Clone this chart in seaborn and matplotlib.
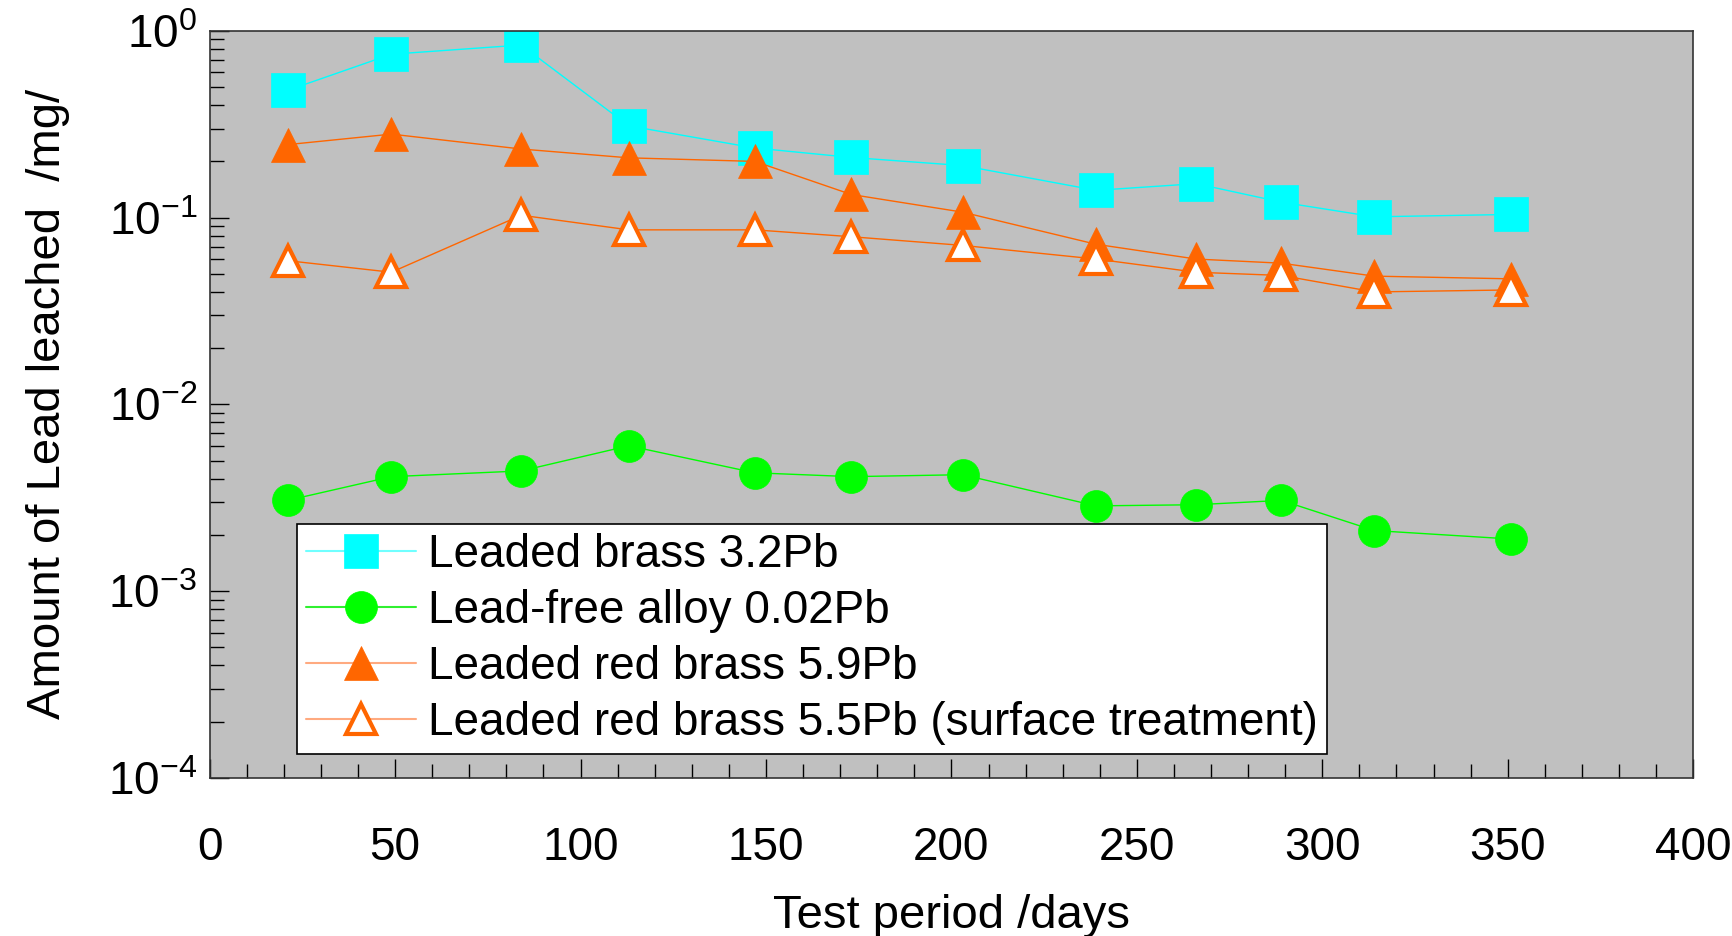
import matplotlib
matplotlib.use("Agg")
import matplotlib.pyplot as plt
import matplotlib.ticker as mticker
from matplotlib.lines import Line2D
import numpy as np
import pandas as pd
import seaborn as sns

days = [21, 49, 84, 113, 147, 173, 203, 239, 266, 289, 314, 351]
brass_32 = [0.48, 0.75, 0.84, 0.31, 0.236, 0.21, 0.19, 0.14, 0.152, 0.121, 0.101, 0.104]
leadfree_002 = [0.00306, 0.0041, 0.0044, 0.0060, 0.0043, 0.0041, 0.0042, 0.00286, 0.0029, 0.00306, 0.00211, 0.0019]
red_59 = [0.246, 0.28, 0.233, 0.209, 0.200, 0.133, 0.107, 0.072, 0.060, 0.057, 0.0486, 0.047]
red_55_st = [0.0588, 0.051, 0.103, 0.086, 0.086, 0.079, 0.071, 0.060, 0.051, 0.049, 0.040, 0.041]

labels = ["Leaded brass 3.2Pb", "Lead-free alloy 0.02Pb",
          "Leaded red brass 5.9Pb", "Leaded red brass 5.5Pb (surface treatment)"]
x_label = "Test period /days"
y_label = "Amount of Lead leached  /mg/"

sns.set_style("ticks")
fam = ["Liberation Sans", "DejaVu Sans"]
plt.rcParams["font.family"] = fam
plt.rcParams["mathtext.fontset"] = "custom"
plt.rcParams["mathtext.rm"] = "Liberation Sans"
plt.rcParams["mathtext.it"] = "Liberation Sans"
plt.rcParams["text.color"] = "black"
plt.rcParams["axes.labelcolor"] = "black"

fig = plt.figure(figsize=(17.33, 9.36), dpi=100)
ax = fig.add_axes([0.121, 0.169, 0.856, 0.798])
ax.set_facecolor("#C0C0C0")

specs = [
    (brass_32, "s", "#00FFFF", "#00FFFF", "#00FFFF", 24, "#70FFFF"),
    (leadfree_002, "o", "#00FF00", "#00FF00", "#00FF00", 23, "#30F030"),
    (red_59, "^", "#FF6600", "#FF6600", "#FF6600", 24, "#FFAA80"),
    (red_55_st, "^", "#FF6600", "white", "#FF6600", 22, "#FFAA80"),
]
handles = []
for (vals, mk, col, fc, ec, ms, lc), lab in zip(specs, labels):
    df = pd.DataFrame({"day": days, "val": vals})
    mew = 3 if fc == "white" else 0.5
    sns.lineplot(data=df, x="day", y="val", ax=ax, color=col, lw=1.0,
                 marker=mk, markersize=ms, markerfacecolor=fc,
                 markeredgecolor=ec, markeredgewidth=mew,
                 legend=False)
    handles.append(Line2D([], [], color=lc, lw=1.5, marker=mk, markersize=ms,
                          markerfacecolor=fc, markeredgecolor=ec, markeredgewidth=mew))

ax.set_yscale("log")
ax.set_ylim(1e-4, 1e0)
ax.set_xlim(0, 400)
ax.xaxis.set_major_locator(mticker.MultipleLocator(50))
ax.xaxis.set_minor_locator(mticker.MultipleLocator(10))
ax.yaxis.set_major_locator(mticker.LogLocator(base=10, numticks=10))
ax.yaxis.set_minor_locator(mticker.LogLocator(base=10, subs=np.arange(2, 10), numticks=20))
ax.yaxis.set_major_formatter(mticker.FuncFormatter(lambda v, p: r"$10^{%d}$" % int(round(np.log10(v)))))
ax.yaxis.set_minor_formatter(mticker.NullFormatter())

ax.tick_params(axis="both", which="both", direction="in", top=False, right=False,
               colors="black", labelcolor="black")
ax.tick_params(axis="x", which="major", length=14, width=1, labelsize=33, pad=35)
ax.tick_params(axis="x", which="minor", length=10, width=1)
ax.tick_params(axis="y", which="major", length=14, width=1, labelsize=33, pad=9)
ax.tick_params(axis="y", which="minor", length=10, width=1)
for s in ax.spines.values():
    s.set_visible(True)
    s.set_color("#333333")
    s.set_linewidth(1.2)

ax.set_xlabel(x_label, fontsize=34)
ax.set_ylabel(y_label, fontsize=34)
ax.xaxis.set_label_coords(0.5, -0.155)
ax.yaxis.set_label_coords(-0.094, 0.5)

leg = ax.legend(handles, labels, loc="lower left", bbox_to_anchor=(0.059, 0.032),
                fontsize=33, frameon=True, fancybox=False, framealpha=1,
                edgecolor="black", handlelength=2.4, handletextpad=0.25,
                labelspacing=0.26, borderpad=0.2, borderaxespad=0)
leg.get_frame().set_linewidth(1.2)

fig.savefig("out.png", dpi=100)
